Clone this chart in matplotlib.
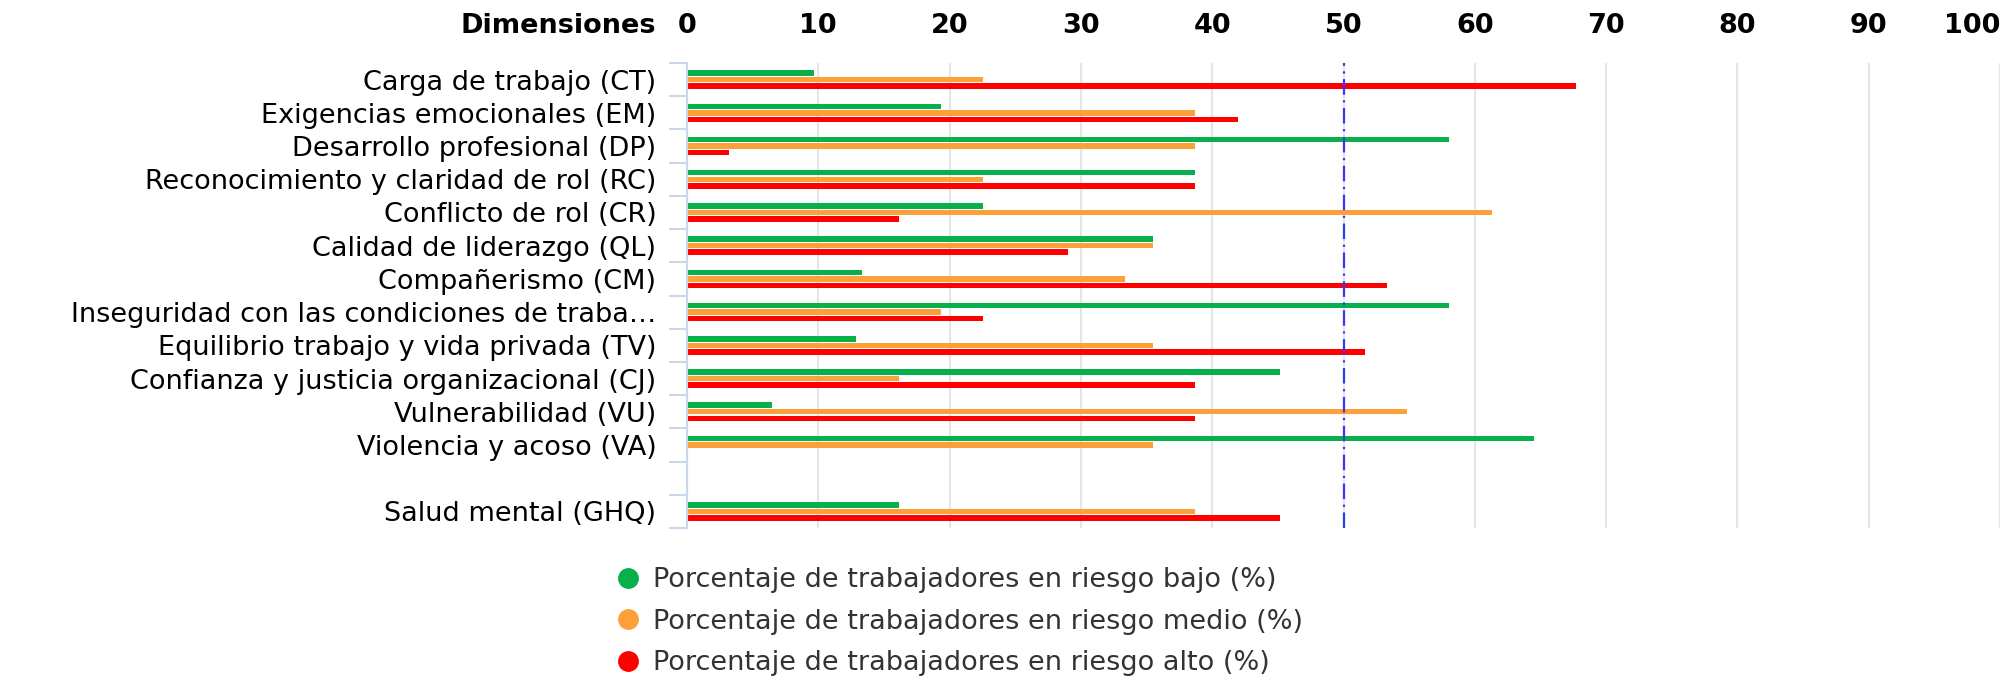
import numpy as np
import matplotlib
matplotlib.use('Agg')
import matplotlib.pyplot as plt
from matplotlib.lines import Line2D

plt.rcParams['font.family'] = ['DejaVu Sans']

# 数据：各维度的风险比例 (%)
categorias = ['Carga de trabajo (CT)', 'Exigencias emocionales (EM)', 'Desarrollo profesional (DP)',
              'Reconocimiento y claridad de rol (RC)', 'Conflicto de rol (CR)', 'Calidad de liderazgo (QL)',
              'Compañerismo (CM)', 'Inseguridad con las condiciones de traba…',
              'Equilibrio trabajo y vida privada (TV)', 'Confianza y justicia organizacional (CJ)',
              'Vulnerabilidad (VU)', 'Violencia y acoso (VA)', '', 'Salud mental (GHQ)']
riesgo_bajo = [9.68, 19.35, 58.06, 38.71, 22.58, 35.48, 13.33, 58.06, 12.90, 45.16, 6.45, 64.52, np.nan, 16.13]
riesgo_medio = [22.58, 38.71, 38.71, 22.58, 61.29, 35.48, 33.33, 19.35, 35.48, 16.13, 54.84, 35.48, np.nan, 38.71]
riesgo_alto = [67.74, 41.94, 3.23, 38.71, 16.13, 29.03, 53.33, 22.58, 51.61, 38.71, 38.71, 0, np.nan, 45.16]
ticks_x = list(range(0, 101, 10))
umbral = 50

series = [
    ('Porcentaje de trabajadores en riesgo bajo (%)', riesgo_bajo, '#07b04b'),
    ('Porcentaje de trabajadores en riesgo medio (%)', riesgo_medio, '#fca13a'),
    ('Porcentaje de trabajadores en riesgo alto (%)', riesgo_alto, '#ff0000'),
]

W, H = 2010, 677
fs = 19.5
fig = plt.figure(figsize=(W / 100, H / 100), dpi=100)
ax = fig.add_axes([687 / W, 1 - 528 / H, (2000 - 687) / W, (528 - 63) / H])

y = np.arange(len(categorias))
offsets = [-0.196, 0, 0.196]
for (nombre, valores, color), off in zip(series, offsets):
    ax.barh(y + off, valores, height=0.165, color=color, zorder=3)

# línea de referencia en 50 %
ax.axvline(umbral, color='#3535ff', lw=1.6, dashes=(7, 2.5, 1, 2.5), zorder=4)

ax.set_xlim(0, 100)
ax.set_ylim(len(categorias) - 0.5, -0.5)
ax.set_xticks(ticks_x)
ax.xaxis.tick_top()
ax.tick_params(axis='x', length=0, pad=17, labelsize=fs)
for lab in ax.get_xticklabels():
    lab.set_fontweight('bold')
ax.get_xticklabels()[-1].set_ha('right')
ax.grid(axis='x', color='#e6e6e6', lw=1.5, zorder=0)

ax.set_yticks(y)
ax.set_yticklabels(categorias, fontsize=fs, color='#000000')
ax.tick_params(axis='y', length=0, pad=22)
ax.set_yticks(np.arange(-0.5, len(categorias)), minor=True)
ax.tick_params(axis='y', which='minor', length=13, width=1.5, color='#ccd6eb')

for s in ['top', 'right', 'bottom']:
    ax.spines[s].set_visible(False)
ax.spines['left'].set_color('#ccd6eb')
ax.spines['left'].set_linewidth(1.5)
ax.spines['left'].set_zorder(5)

fig.text(656 / W, 1 - 26 / H, 'Dimensiones', ha='right', va='center', fontsize=fs, fontweight='bold')

handles = [Line2D([], [], marker='o', ls='', color=c, markersize=14) for _, _, c in series]
fig.legend(handles, [n for n, _, _ in series], loc='upper left', bbox_to_anchor=(606 / W, 1 - 567 / H),
           frameon=False, fontsize=fs, labelcolor='#333333', handletextpad=0.15, labelspacing=0.58,
           handlelength=1.6, borderaxespad=0, borderpad=0)

fig.savefig('out.png', dpi=100, facecolor='white')
